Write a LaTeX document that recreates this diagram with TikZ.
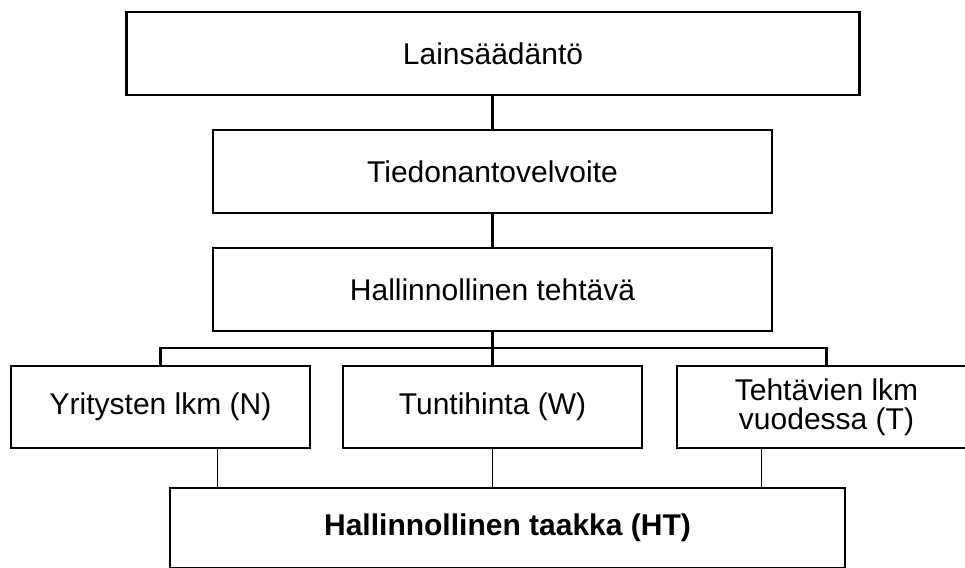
\documentclass[tikz,border=0pt]{standalone}
\usepackage{fontspec}
\setmainfont{Liberation Sans}
\usetikzlibrary{calc}
\begin{document}
\begin{tikzpicture}[x=1pt,y=-1pt,
  box/.style={draw=black,line width=2.7pt,fill=white,inner sep=0pt,align=center,
    font=\fontsize{30}{29}\selectfont,minimum height=83pt},
  rowbox/.style={box,minimum width=299pt,minimum height=82pt},
  bus/.style={draw=black,line width=2.7pt},
  thin/.style={draw=black,line width=1pt}]
\useasboundingbox (0,0) rectangle (965,567);
\clip (0,0) rectangle (965,567);
\node[box,minimum width=733pt] (lain) at (493,53.5) {Lainsäädäntö};
\node[box,minimum width=559pt] (tied) at (492.5,171.5) {Tiedonantovelvoite};
\node[box,minimum width=559pt] (hall) at (492.5,289.5) {Hallinnollinen tehtävä};
\node[rowbox] (yrit) at (160.5,407) {Yritysten lkm (N)};
\node[rowbox] (tunt) at (492.5,407) {Tuntihinta (W)};
\node[rowbox] (teht) at (826.5,407) {Tehtävien lkm\\vuodessa (T)};
\node[box,minimum width=675pt,minimum height=80pt,font=\fontsize{30}{29}\selectfont\bfseries] (ht) at (507.5,528) {Hallinnollinen taakka (HT)};
\coordinate (busl) at (160.5,348);
\coordinate (busr) at (826.5,348);
\coordinate (lt) at ($(yrit.south)+(56.5,0)$);
\coordinate (rt) at ($(teht.south)+(-65.5,0)$);
\draw[bus] (tied.north |- lain.south) -- (tied.north);
\draw[bus] (tied.south) -- (hall.north);
\draw[bus] (hall.south) -- (tunt.north);
\draw[bus] (yrit.north) -- (busl) -- (busr) -- (teht.north);
\draw[thin] (lt) -- (lt |- ht.north);
\draw[thin] (tunt.south) -- (tunt.south |- ht.north);
\draw[thin] (rt) -- (rt |- ht.north);
\end{tikzpicture}
\end{document}
